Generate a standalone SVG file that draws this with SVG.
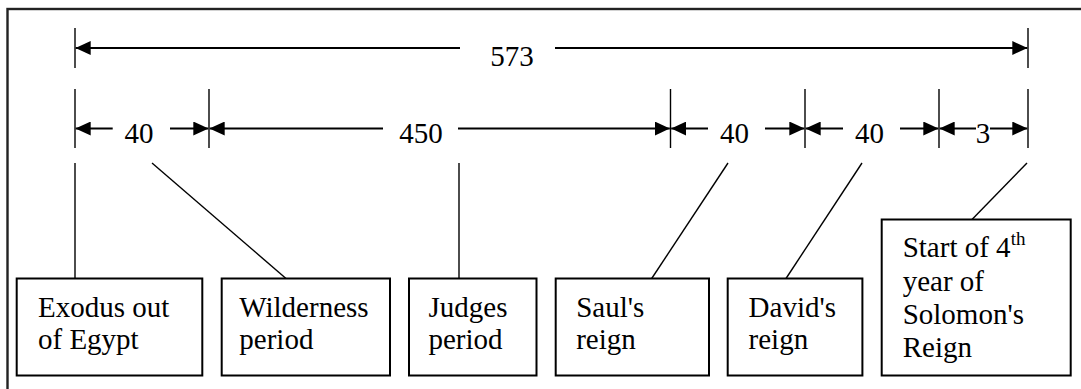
<svg xmlns="http://www.w3.org/2000/svg" width="1081" height="389" viewBox="0 0 1081 389">
<defs>
<style>
.box{fill:#fff;stroke:#000;stroke-width:2}
.t{font-size:29px;fill:#000}
.dim{stroke:#000;stroke-width:2;fill:none;marker-end:url(#ah)}
.tick{stroke:#000;stroke-width:1.4}
.lead{stroke:#000;stroke-width:1.4;fill:none}
</style>
<marker id="ah" markerUnits="userSpaceOnUse" markerWidth="15" markerHeight="14" refX="15" refY="7" orient="auto">
<path d="M0,0 L15,7 L0,14 z" fill="#000"/>
</marker>
</defs>
<rect x="0" y="0" width="1081" height="389" fill="#fff"/>
<rect x="7.5" y="9" width="1100" height="420" fill="none" stroke="#222" stroke-width="2.4"/>

<g font-family="'Liberation Serif', Tinos, 'DejaVu Serif', serif">
<g id="dimensions">
<line class="tick" x1="75" y1="28" x2="75" y2="68"/>
<line class="tick" x1="1028" y1="28" x2="1028" y2="68"/>
<line class="dim" x1="460" y1="48" x2="75.7" y2="48"/>
<line class="dim" x1="555" y1="48" x2="1027.3" y2="48"/>
<text class="t" x="512" y="66" text-anchor="middle">573</text>

<line class="tick" x1="75" y1="89" x2="75" y2="148"/>
<line class="tick" x1="209" y1="89" x2="209" y2="148"/>
<line class="tick" x1="670.5" y1="89" x2="670.5" y2="148"/>
<line class="tick" x1="805" y1="89" x2="805" y2="148"/>
<line class="tick" x1="939" y1="89" x2="939" y2="148"/>
<line class="tick" x1="1028" y1="89" x2="1028" y2="148"/>

<line class="dim" x1="112.7" y1="128.5" x2="75.7" y2="128.5"/>
<line class="dim" x1="170" y1="128.5" x2="208.3" y2="128.5"/>
<text class="t" x="139" y="142.5" text-anchor="middle">40</text>

<line class="dim" x1="383" y1="128.5" x2="209.7" y2="128.5"/>
<line class="dim" x1="458" y1="128.5" x2="669.8" y2="128.5"/>
<text class="t" x="421" y="142.5" text-anchor="middle">450</text>

<line class="dim" x1="708" y1="128.5" x2="671.2" y2="128.5"/>
<line class="dim" x1="765" y1="128.5" x2="804.3" y2="128.5"/>
<text class="t" x="734.5" y="142.5" text-anchor="middle">40</text>

<line class="dim" x1="843" y1="128.5" x2="805.7" y2="128.5"/>
<line class="dim" x1="900" y1="128.5" x2="938.3" y2="128.5"/>
<text class="t" x="869.5" y="142.5" text-anchor="middle">40</text>

<line class="dim" x1="976" y1="128.5" x2="939.7" y2="128.5"/>
<line class="dim" x1="990" y1="128.5" x2="1027.3" y2="128.5"/>
<text class="t" x="983" y="142.5" text-anchor="middle">3</text>
</g>

<g id="connectors">
<line class="lead" x1="75" y1="163" x2="75" y2="278.5"/>
<line class="lead" x1="152" y1="163" x2="286" y2="278.5"/>
<line class="lead" x1="459" y1="163" x2="459" y2="278.5"/>
<line class="lead" x1="728" y1="163" x2="651.7" y2="278.5"/>
<line class="lead" x1="862" y1="163" x2="786" y2="278.5"/>
<line class="lead" x1="1027" y1="163" x2="972" y2="219.5"/>
</g>

<g id="node-exodus">
<rect class="box" x="16.7" y="278.5" width="185.6" height="97"/>
<text class="t" x="38" y="316.7">Exodus out</text>
<text class="t" x="38" y="349">of Egypt</text>
</g>
<g id="node-wilderness">
<rect class="box" x="221.7" y="278.5" width="168.3" height="97"/>
<text class="t" x="239.3" y="316.7">Wilderness</text>
<text class="t" x="239.3" y="349">period</text>
</g>
<g id="node-judges">
<rect class="box" x="409" y="278.5" width="127.5" height="97"/>
<text class="t" x="428.5" y="316.7">Judges</text>
<text class="t" x="428.5" y="349">period</text>
</g>
<g id="node-saul">
<rect class="box" x="555.7" y="278.5" width="153.3" height="97"/>
<text class="t" x="576.2" y="316.7">Saul's</text>
<text class="t" x="576.2" y="349">reign</text>
</g>
<g id="node-david">
<rect class="box" x="727.7" y="278.5" width="134.7" height="97"/>
<text class="t" x="748.6" y="316.7">David's</text>
<text class="t" x="748.6" y="349">reign</text>
</g>
<g id="node-solomon">
<rect class="box" x="881.7" y="219.5" width="189" height="156"/>
<text class="t" x="902.7" y="257.3">Start of 4<tspan font-size="19" dy="-12">th</tspan></text>
<text class="t" x="902.7" y="290.5">year of</text>
<text class="t" x="902.7" y="323.7">Solomon's</text>
<text class="t" x="902.7" y="356.7">Reign</text>
</g>
</g>
</svg>
